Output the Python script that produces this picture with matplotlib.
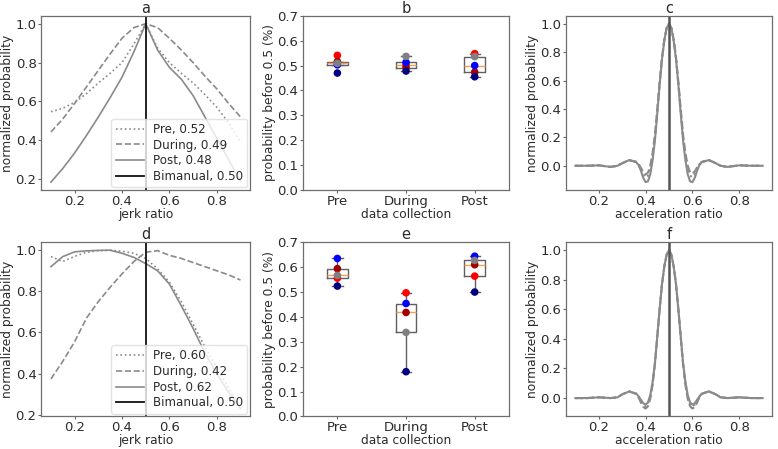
import matplotlib
matplotlib.use("Agg")
import matplotlib.pyplot as plt
import numpy as np

# ---- data ----
jerk_x = [0.10, 0.15, 0.20, 0.25, 0.30, 0.35, 0.40, 0.45, 0.50,
          0.55, 0.60, 0.65, 0.70, 0.75, 0.80, 0.85, 0.90]

# panel a (top row, jerk)
a_pre = [0.547, 0.565, 0.595, 0.64, 0.695, 0.745, 0.80, 0.895, 1.0,
         0.875, 0.80, 0.745, 0.695, 0.635, 0.57, 0.49, 0.39]
a_during = [0.443, 0.51, 0.59, 0.675, 0.76, 0.845, 0.925, 0.98, 1.0,
            0.98, 0.925, 0.865, 0.80, 0.73, 0.665, 0.59, 0.52]
a_post = [0.185, 0.255, 0.335, 0.425, 0.52, 0.62, 0.725, 0.855, 1.0,
          0.865, 0.775, 0.715, 0.63, 0.52, 0.41, 0.30, 0.19]
a_labels = ["Pre, 0.52", "During, 0.49", "Post, 0.48", "Bimanual, 0.50"]

# panel d (bottom row, jerk)
d_pre = [0.969, 0.945, 0.97, 0.99, 0.998, 1.0, 0.995, 0.985, 0.96,
         0.91, 0.845, 0.75, 0.64, 0.53, 0.43, 0.33, 0.235]
d_during = [0.374, 0.46, 0.555, 0.67, 0.75, 0.82, 0.885, 0.945, 0.99,
            0.998, 0.975, 0.96, 0.94, 0.92, 0.90, 0.88, 0.855]
d_post = [0.92, 0.969, 0.992, 0.997, 0.999, 1.0, 0.985, 0.965, 0.935,
          0.90, 0.835, 0.73, 0.62, 0.50, 0.40, 0.31, 0.23]
d_labels = ["Pre, 0.60", "During, 0.42", "Post, 0.62", "Bimanual, 0.50"]

# panels c / f (acceleration)
acc_x = [0.10, 0.15, 0.20, 0.25, 0.28, 0.30, 0.33,
         0.36, 0.37, 0.38, 0.39, 0.40, 0.41, 0.42, 0.43, 0.44, 0.45, 0.46, 0.47, 0.48, 0.49,
         0.50,
         0.51, 0.52, 0.53, 0.54, 0.55, 0.56, 0.57, 0.58, 0.59, 0.60, 0.61, 0.62, 0.63, 0.64,
         0.67, 0.70, 0.72, 0.75, 0.80, 0.85, 0.90]
c_pre = [0.0, 0.0, 0.003, -0.008, 0.0, 0.018, 0.04,
         0.027, 0.009, -0.025, -0.062, -0.082, -0.072, -0.025, 0.065, 0.20, 0.385, 0.58, 0.755, 0.885, 0.97,
         1.0,
         0.97, 0.885, 0.755, 0.58, 0.385, 0.20, 0.065, -0.025, -0.07, -0.08, -0.06, -0.022, 0.009, 0.027,
         0.04, 0.018, 0.0, -0.008, 0.003, 0.0, 0.0]
c_during = [0.0, 0.0, 0.003, -0.008, 0.0, 0.018, 0.04,
            0.028, 0.012, -0.015, -0.045, -0.062, -0.05, 0.0, 0.09, 0.22, 0.40, 0.59, 0.76, 0.89, 0.97,
            1.0,
            0.97, 0.89, 0.76, 0.59, 0.40, 0.22, 0.09, 0.0, -0.045, -0.055, -0.04, -0.012, 0.01, 0.028,
            0.04, 0.018, 0.0, -0.008, 0.003, 0.0, 0.0]
c_post = [0.0, 0.0, 0.003, -0.008, 0.0, 0.018, 0.04,
          0.025, 0.005, -0.035, -0.085, -0.115, -0.11, -0.06, 0.04, 0.18, 0.37, 0.57, 0.75, 0.88, 0.97,
          1.0,
          0.97, 0.88, 0.75, 0.57, 0.37, 0.18, 0.04, -0.06, -0.11, -0.115, -0.085, -0.035, 0.005, 0.025,
          0.04, 0.018, 0.0, -0.008, 0.003, 0.0, 0.0]
f_pre = [0.0, 0.0, 0.005, 0.0, 0.005, 0.025, 0.045,
         0.029, 0.008, -0.02, -0.045, -0.055, -0.04, 0.01, 0.10, 0.235, 0.415, 0.60, 0.77, 0.89, 0.97,
         1.0,
         0.97, 0.89, 0.77, 0.60, 0.415, 0.235, 0.10, 0.01, -0.04, -0.055, -0.045, -0.02, 0.008, 0.029,
         0.045, 0.025, 0.005, 0.0, 0.005, 0.0, 0.0]
f_during = [0.0, 0.0, 0.005, 0.0, 0.005, 0.025, 0.045,
            0.028, 0.005, -0.03, -0.06, -0.071, -0.055, -0.005, 0.09, 0.23, 0.41, 0.60, 0.77, 0.89, 0.97,
            1.0,
            0.97, 0.89, 0.77, 0.60, 0.41, 0.23, 0.09, -0.005, -0.055, -0.071, -0.06, -0.03, 0.005, 0.028,
            0.045, 0.025, 0.005, 0.0, 0.005, 0.0, 0.0]
f_post = [0.0, 0.0, 0.005, 0.0, 0.005, 0.025, 0.045,
          0.03, 0.012, -0.012, -0.035, -0.044, -0.03, 0.02, 0.11, 0.24, 0.42, 0.60, 0.77, 0.89, 0.97,
          1.0,
          0.97, 0.89, 0.77, 0.60, 0.42, 0.24, 0.11, 0.02, -0.03, -0.044, -0.035, -0.012, 0.012, 0.03,
          0.045, 0.025, 0.005, 0.0, 0.005, 0.0, 0.0]

# panels b / e (box plots), one value per subject
phases = ["Pre", "During", "Post"]
subj_colors = ["red", "#a00000", "blue", "#808080", "navy"]
b_vals = {"Pre":    [0.541, 0.516, 0.503, 0.509, 0.470],
          "During": [0.503, 0.492, 0.513, 0.537, 0.478],
          "Post":   [0.548, 0.474, 0.500, 0.536, 0.455]}
e_vals = {"Pre":    [0.556, 0.594, 0.635, 0.567, 0.524],
          "During": [0.497, 0.418, 0.454, 0.338, 0.180],
          "Post":   [0.564, 0.610, 0.644, 0.627, 0.500]}

# ---- style ----
txt = "#2b2b2b"
plt.rcParams.update({
    "font.family": "DejaVu Sans",
    "font.size": 8.8,
    "text.color": txt,
    "axes.labelcolor": txt,
    "xtick.color": "#666666",
    "ytick.color": "#666666",
    "xtick.labelcolor": txt,
    "ytick.labelcolor": txt,
    "xtick.major.size": 2,
    "ytick.major.size": 2,
    "xtick.major.pad": 1.5,
    "ytick.major.pad": 1.5,
    "axes.edgecolor": "#6e6e6e",
    "axes.linewidth": 0.9,
    "xtick.labelsize": 9.5,
    "ytick.labelsize": 9.5,
    "axes.labelsize": 8.8,
})
line_col = "#8a8a8a"

fig = plt.figure(figsize=(7.78, 4.49), dpi=100)

top_b, bot_b, h = 0.5768, 0.0724, 0.388
lefts = [0.0533, 0.3895, 0.7275]
widths = [0.268, 0.2648, 0.2648]
jerk_ticks = [0.2, 0.4, 0.6, 0.8]


def jerk_panel(ax, pre, during, post, labels, title):
    ax.plot(jerk_x, pre, ":", color=line_col, lw=1.2, label=labels[0])
    ax.plot(jerk_x, during, "--", color=line_col, lw=1.2, label=labels[1])
    ax.plot(jerk_x, post, "-", color=line_col, lw=1.2, label=labels[2])
    ax.axvline(0.5, color="#111111", lw=1.3, label=labels[3])
    ax.set_xticks(jerk_ticks)
    ax.set_yticks([0.2, 0.4, 0.6, 0.8, 1.0])
    ax.set_xlabel("jerk ratio", labelpad=0)
    ax.set_ylabel("normalized probability", labelpad=1)
    ax.set_title(title, fontsize=10.5, pad=1)
    ax.legend(loc="lower right", fontsize=8.6, handlelength=2.4,
              borderpad=0.35, labelspacing=0.22, handletextpad=0.7,
              borderaxespad=0.25, framealpha=0.8, edgecolor="#dddddd")


def acc_panel(ax, pre, during, post, title):
    ax.plot(acc_x, pre, ":", color=line_col, lw=1.5)
    ax.plot(acc_x, during, "--", color=line_col, lw=1.5)
    ax.plot(acc_x, post, "-", color=line_col, lw=1.5)
    ax.axvline(0.5, color="#555555", lw=1.8)
    ax.set_xticks(jerk_ticks)
    ax.set_yticks([0.0, 0.2, 0.4, 0.6, 0.8, 1.0])
    ax.set_yticklabels(["0.0", "0.2", "0.4", "0.6", "0.8", "1.0"])
    ax.set_xlabel("acceleration ratio", labelpad=0)
    ax.set_ylabel("normalized probability", labelpad=1)
    ax.set_title(title, fontsize=10.5, pad=1)


def box_panel(ax, vals, title):
    data = [vals[p] for p in phases]
    ax.boxplot(data, showfliers=False,
               boxprops=dict(color="#606060", lw=1.0),
               whiskerprops=dict(color="#606060", lw=1.0),
               capprops=dict(color="#606060", lw=1.0),
               medianprops=dict(color="#f5a050", lw=1.0))
    for i, p in enumerate(phases):
        ax.scatter([i + 1] * len(vals[p]), vals[p], c=subj_colors, s=30,
                   zorder=3, edgecolors="none")
    ax.set_xticks([1, 2, 3])
    ax.set_xticklabels(phases)
    ax.set_ylim(0, 0.7)
    ax.set_yticks([0.0, 0.1, 0.2, 0.3, 0.4, 0.5, 0.6, 0.7])
    ax.set_xlabel("data collection", labelpad=0)
    ax.set_ylabel("probability before 0.5 (%)", labelpad=1)
    ax.set_title(title, fontsize=10.5, pad=1)


ax_a = fig.add_axes([lefts[0], top_b, widths[0], h])
ax_b = fig.add_axes([lefts[1], top_b, widths[1], h])
ax_c = fig.add_axes([lefts[2], top_b, widths[2], h])
ax_d = fig.add_axes([lefts[0], bot_b, widths[0], h])
ax_e = fig.add_axes([lefts[1], bot_b, widths[1], h])
ax_f = fig.add_axes([lefts[2], bot_b, widths[2], h])

jerk_panel(ax_a, a_pre, a_during, a_post, a_labels, "a")
box_panel(ax_b, b_vals, "b")
acc_panel(ax_c, c_pre, c_during, c_post, "c")
jerk_panel(ax_d, d_pre, d_during, d_post, d_labels, "d")
box_panel(ax_e, e_vals, "e")
acc_panel(ax_f, f_pre, f_during, f_post, "f")

fig.savefig("out.png", dpi=100)
